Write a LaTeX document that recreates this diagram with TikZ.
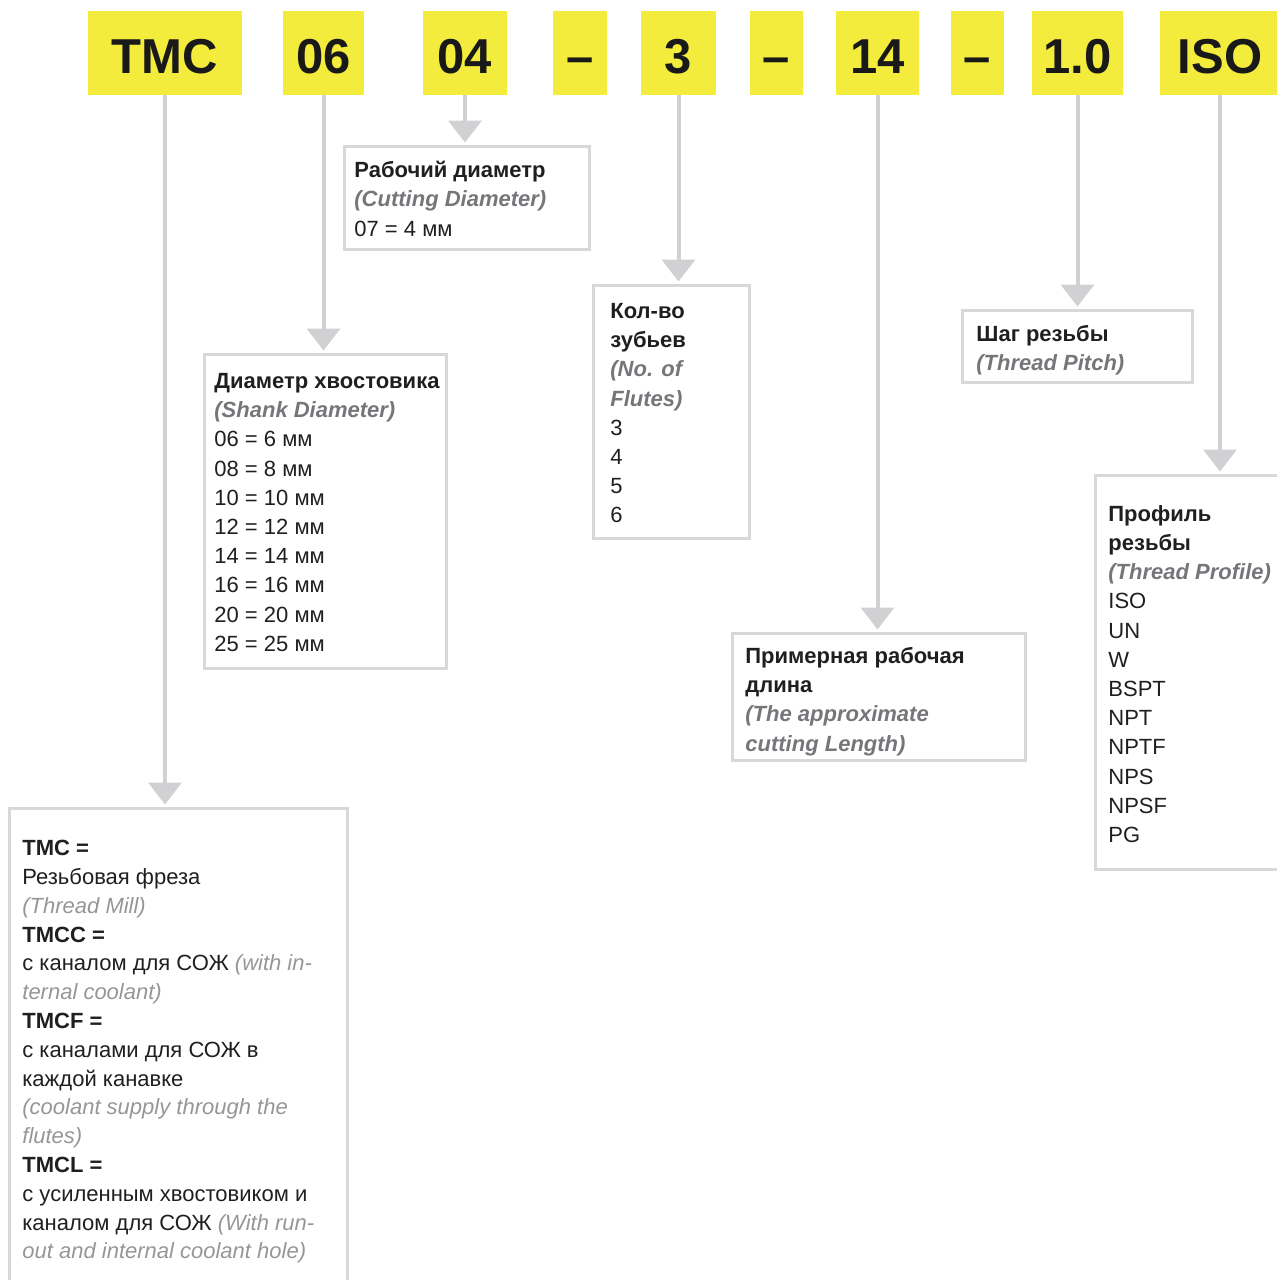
\documentclass[tikz,border=0pt]{standalone}
\usepackage{fontspec}
\setmainfont{Liberation Sans}
\usetikzlibrary{arrows.meta, positioning, fit}
\definecolor{codeyellow}{RGB}{243,236,60}
\definecolor{linegray}{RGB}{209,209,211}
\definecolor{boxgray}{RGB}{216,216,216}
\definecolor{enggray}{RGB}{118,118,122}
\definecolor{notegray}{RGB}{150,150,152}
\newcommand{\engtext}[1]{\textcolor{enggray}{\bfseries\itshape #1}}
\newcommand{\notetext}[1]{\textcolor{notegray}{\itshape #1}}

\begin{document}
\begin{tikzpicture}[
    x=0.5pt, y=-0.5pt,
    code/.style={fill=codeyellow, minimum height=42pt, inner sep=0pt, text height=20pt, text depth=0pt, text=black!90, font=\fontsize{24.5pt}{24.5pt}\selectfont\bfseries},
    descbox/.style={draw=boxgray, line width=1.5pt, inner sep=0pt},
    desctext/.style={anchor=north west, align=left, inner sep=0pt, text=black!88, font=\fontsize{11pt}{14.6pt}\selectfont},
    conn/.style={linegray, line width=2pt, -{Triangle[width=16.5pt, length=11pt]}, shorten >=1pt}
]
    \useasboundingbox (0,0) rectangle (1277,1280);
    \clip (0,0) rectangle (1277,1280);

    % Code parts
    \node [code, minimum width=77pt] (tmc) at (165,53) {TMC};
    \node [code, minimum width=40.5pt] (c06) at (323.5,53) {06};
    \node [code, minimum width=42pt] (c04) at (465,53) {04};
    \node [code, minimum width=27pt] (dasha) at (580,53) {--};
    \node [code, minimum width=37.5pt] (c3) at (678.5,53) {3};
    \node [code, minimum width=26.5pt] (dashb) at (776.5,53) {--};
    \node [code, minimum width=41.5pt] (c14) at (877.5,53) {14};
    \node [code, minimum width=26.5pt] (dashc) at (977.5,53) {--};
    \node [code, minimum width=45.5pt] (c10) at (1077.5,53) {1.0};
    \node [code, minimum width=60pt] (iso) at (1220,53) {ISO};

    % Description boxes
    \node [descbox, fit={(344,146) (589,249)}] (cutbox) {};
    \node [descbox, fit={(204,354) (446,668)}] (shankbox) {};
    \node [descbox, fit={(593,285) (749,538)}] (flutebox) {};
    \node [descbox, fit={(962,310) (1192,382)}] (pitchbox) {};
    \node [descbox, fit={(732,633) (1025,760)}] (lengthbox) {};
    \node [descbox, fit={(1095,475) (1300,869)}] (profilebox) {};
    \node [descbox, fit={(9,808) (347,1300)}] (tmcbox) {};

    % Texts
    \node [desctext] (cuttext) at (354,161) {\textbf{Рабочий диаметр}\\ \engtext{(Cutting Diameter)}\\ 07 = 4 мм};
    \node [desctext] (shanktext) at (214,373) {\textbf{Диаметр хвостовика}\\ \engtext{(Shank Diameter)}\\
        06 = 6 мм\\ 08 = 8 мм\\ 10 = 10 мм\\ 12 = 12 мм\\ 14 = 14 мм\\ 16 = 16 мм\\ 20 = 20 мм\\ 25 = 25 мм};
    \node [desctext] (flutetext) at (610,303) {\textbf{Кол-во}\\ \textbf{зубьев}\\ \engtext{(No. of}\\ \engtext{Flutes)}\\ 3\\ 4\\ 5\\ 6};
    \node [desctext] (pitchtext) at (976,325) {\textbf{Шаг резьбы}\\ \engtext{(Thread Pitch)}};
    \node [desctext] (lengthtext) at (745,647) {\textbf{Примерная рабочая}\\ \textbf{длина}\\ \engtext{(The approximate}\\ \engtext{cutting Length)}};
    \node [desctext] (profiletext) at (1108,505) {\textbf{Профиль}\\ \textbf{резьбы}\\ \engtext{(Thread Profile)}\\
        ISO\\ UN\\ W\\ BSPT\\ NPT\\ NPTF\\ NPS\\ NPSF\\ PG};
    \node [desctext, font=\fontsize{11pt}{14.4pt}\selectfont] (tmctext) at (22,840) {\textbf{TMC =}\\ Резьбовая фреза\\ \notetext{(Thread Mill)}\\
        \textbf{TMCC =}\\ с каналом для СОЖ \notetext{(with in-}\\ \notetext{ternal coolant)}\\
        \textbf{TMCF =}\\ с каналами для СОЖ в\\ каждой канавке\\ \notetext{(coolant supply through the}\\ \notetext{flutes)}\\
        \textbf{TMCL =}\\ с усиленным хвостовиком и\\ каналом для СОЖ \notetext{(With run-}\\ \notetext{out and internal coolant hole)}};

    % Connectors
    \draw [conn] (tmc.south) -- (tmc.south |- tmcbox.north);
    \draw [conn] (c06.south) -- (c06.south |- shankbox.north);
    \draw [conn] (c04.south) -- (c04.south |- cutbox.north);
    \draw [conn] (c3.south) -- (c3.south |- flutebox.north);
    \draw [conn] (c14.south) -- (c14.south |- lengthbox.north);
    \draw [conn] (c10.south) -- (c10.south |- pitchbox.north);
    \draw [conn] (iso.south) -- (iso.south |- profilebox.north);
\end{tikzpicture}
\end{document}
